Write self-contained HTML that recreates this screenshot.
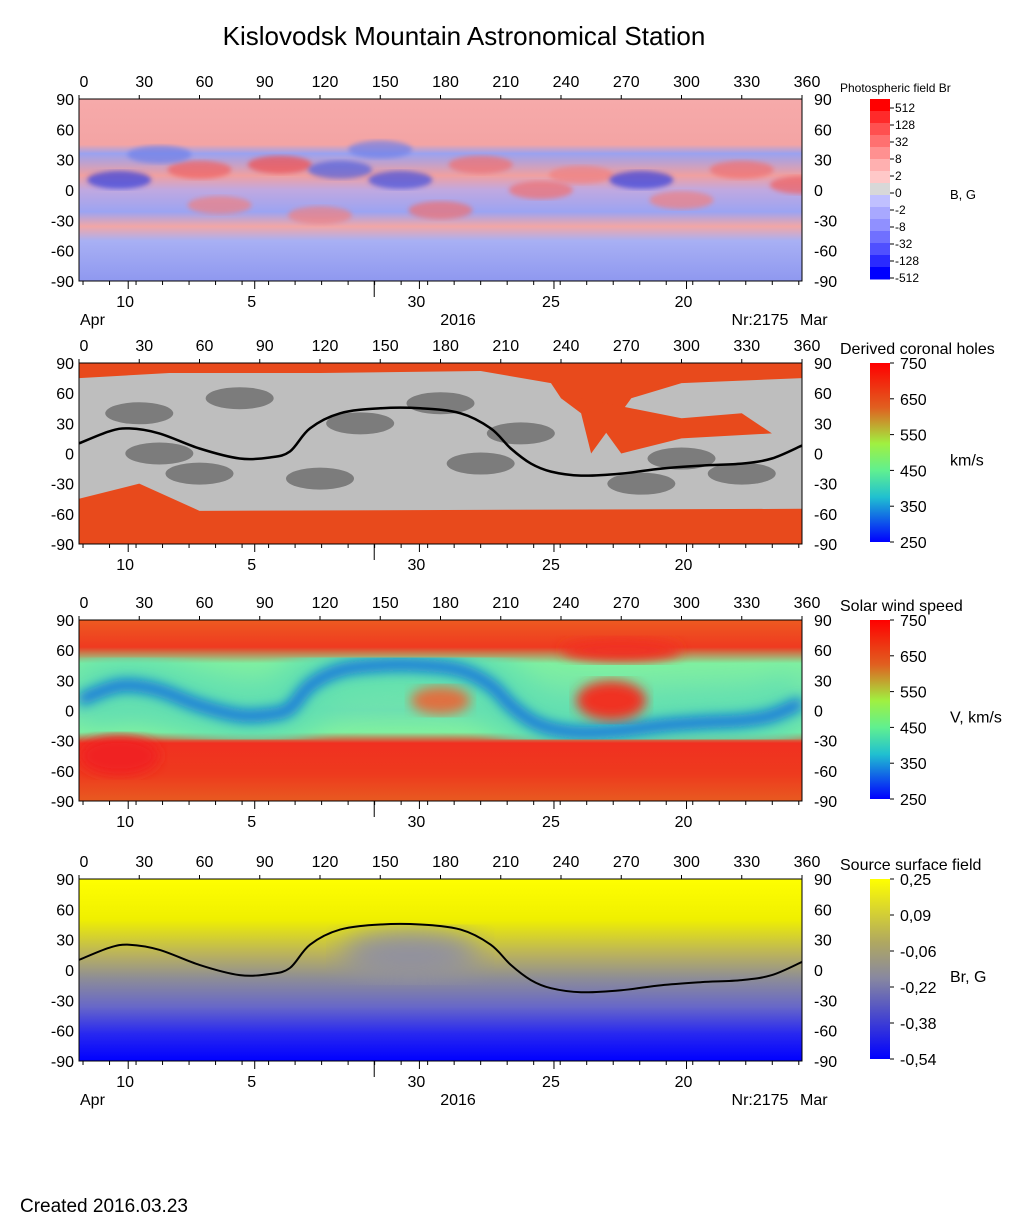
<!DOCTYPE html>
<html><head><meta charset="utf-8"><style>
body{margin:0;background:#fff}
svg{display:block;font-family:"Liberation Sans",Arial,sans-serif}
</style></head><body>
<svg id="s" width="1020" height="1223" viewBox="0 0 1020 1223">
<defs>
<filter id="blur6"><feGaussianBlur stdDeviation="6"/></filter>
<filter id="blur14"><feGaussianBlur stdDeviation="14"/></filter>
<filter id="blur3"><feGaussianBlur stdDeviation="2.5"/></filter>
<linearGradient id="g1" x1="0" y1="0" x2="0" y2="1">
<stop offset="0" stop-color="#f6aaaa"/><stop offset="0.25" stop-color="#f4a4a4"/><stop offset="0.3" stop-color="#9aa2f0"/>
<stop offset="0.42" stop-color="#f0a0a0"/><stop offset="0.5" stop-color="#c0a8e0"/><stop offset="0.62" stop-color="#9ca4f2"/>
<stop offset="0.7" stop-color="#f2a6a6"/><stop offset="0.78" stop-color="#a8b0f4"/><stop offset="1" stop-color="#8f98f0"/></linearGradient>
<linearGradient id="g3" x1="0" y1="0" x2="0" y2="1">
<stop offset="0" stop-color="#ee5a20"/><stop offset="0.15" stop-color="#ef3a20"/><stop offset="0.24" stop-color="#80f0a0"/>
<stop offset="0.5" stop-color="#70e0b0"/><stop offset="0.62" stop-color="#80f0a0"/><stop offset="0.68" stop-color="#f03020"/>
<stop offset="0.85" stop-color="#ee3a1e"/><stop offset="1" stop-color="#e85a20"/></linearGradient>
<linearGradient id="g4" x1="0" y1="0" x2="0" y2="1">
<stop offset="0" stop-color="#ffff00"/><stop offset="0.22" stop-color="#f0f000"/><stop offset="0.42" stop-color="#b8b060"/>
<stop offset="0.55" stop-color="#8c8c98"/><stop offset="0.7" stop-color="#6868c8"/><stop offset="0.85" stop-color="#2828f0"/><stop offset="1" stop-color="#0000ff"/></linearGradient>
<linearGradient id="cbRain" x1="0" y1="0" x2="0" y2="1">
<stop offset="0" stop-color="#ff0000"/><stop offset="0.25" stop-color="#e06020"/><stop offset="0.45" stop-color="#a0f040"/>
<stop offset="0.6" stop-color="#60f090"/><stop offset="0.75" stop-color="#20c0d0"/><stop offset="1" stop-color="#0000ff"/></linearGradient>
<linearGradient id="cb4" x1="0" y1="0" x2="0" y2="1">
<stop offset="0" stop-color="#ffff00"/><stop offset="0.35" stop-color="#b0a860"/><stop offset="0.55" stop-color="#8888a0"/><stop offset="1" stop-color="#0000ff"/></linearGradient>
<clipPath id="c1"><rect x="79" y="99" width="723" height="182"/></clipPath>
<clipPath id="c2"><rect x="79" y="363" width="723" height="181"/></clipPath>
<clipPath id="c3"><rect x="79" y="620" width="723" height="181"/></clipPath>
<clipPath id="c4"><rect x="79" y="879" width="723" height="182"/></clipPath>
</defs>
<text x="464" y="45" font-size="26" text-anchor="middle">Kislovodsk Mountain Astronomical Station</text>
<g id="plots"></g>
<text x="20" y="1212" font-size="19">Created  2016.03.23</text>
</svg>
<script>
const NS="http://www.w3.org/2000/svg";
const svg=document.getElementById('plots');
// neutral line data (longitude deg, latitude deg)
const neutralLon=[0,15,25,40,60,80,95,105,115,130,150,170,190,205,215,225,235,250,270,290,310,330,345,360];
const neutralLat=[10,22,25,20,5,-5,-4,2,25,40,45,45,40,25,5,-10,-18,-22,-20,-15,-12,-10,-5,8];
const latTicks=[90,60,30,0,-30,-60,-90];
const lonTicks=[0,30,60,90,120,150,180,210,240,270,300,330,360];
const dateLabels=["10","5","30","25","20"];
const dateLon=[22,85,167,234,300];
const monthLon=147;
const panels=[
 {y0:99,h:182,title:"Photospheric field Br",tsize:12,unit:"B, G",cb:"steps",labels:["512","128","32","8","2","0","-2","-8","-32","-128","-512"],foot:true},
 {y0:363,h:181,title:"Derived coronal holes",tsize:16,unit:"km/s",cb:"url(#cbRain)",labels:["750","650","550","450","350","250"],foot:false},
 {y0:620,h:181,title:"Solar wind speed",tsize:16,unit:"V, km/s",cb:"url(#cbRain)",labels:["750","650","550","450","350","250"],foot:false},
 {y0:879,h:182,title:"Source surface field",tsize:16,unit:"Br, G",cb:"url(#cb4)",labels:["0,25","0,09","-0,06","-0,22","-0,38","-0,54"],foot:true}];
const X0=79,W=723;
function el(t,a,p){const e=document.createElementNS(NS,t);for(const k in a)e.setAttribute(k,a[k]);(p||svg).appendChild(e);return e;}
function xs(l){return X0+l*W/360;}
function linePath(ys){
 const P=neutralLon.map((l,i)=>[xs(l),ys(neutralLat[i])]);
 let d="M"+P[0][0].toFixed(1)+","+P[0][1].toFixed(1);
 for(let i=0;i<P.length-1;i++){
  const p0=P[Math.max(0,i-1)],p1=P[i],p2=P[i+1],p3=P[Math.min(P.length-1,i+2)];
  const c1=[p1[0]+(p2[0]-p0[0])/6,p1[1]+(p2[1]-p0[1])/6],c2=[p2[0]-(p3[0]-p1[0])/6,p2[1]-(p3[1]-p1[1])/6];
  d+=`C${c1[0].toFixed(1)},${c1[1].toFixed(1)} ${c2[0].toFixed(1)},${c2[1].toFixed(1)} ${p2[0].toFixed(1)},${p2[1].toFixed(1)}`;
 }
 return d;}
panels.forEach((p,pi)=>{
 const ys=lat=>p.y0+(90-lat)*p.h/180;
 const g=el('g',{'clip-path':`url(#c${pi+1})`});
 
 
 if(pi===0){
  el('rect',{x:X0,y:p.y0,width:W,height:p.h,fill:'url(#g1)'},g);
  const blobs=[[20,10,'#3040e0'],[60,20,'#f06060'],[100,25,'#f05050'],[130,20,'#5060e0'],[160,10,'#4050e0'],[200,25,'#f07070'],[250,15,'#f08080'],[280,10,'#3040e0'],[330,20,'#f07070'],[360,5,'#f06060'],[70,-15,'#f08080'],[180,-20,'#f07070'],[230,0,'#f07070'],[300,-10,'#f08080'],[120,-25,'#f08080'],[40,35,'#7080e8'],[150,40,'#7080e8']];
  blobs.forEach(b=>el('ellipse',{cx:xs(b[0]),cy:ys(b[1]),rx:32,ry:9,fill:b[2],opacity:0.7,filter:'url(#blur3)'},g));
 } else if(pi===1){
  el('rect',{x:X0,y:p.y0,width:W,height:p.h,fill:'#e84a1c'},g);
  el('path',{d:`M${xs(0)},${ys(75)} L${xs(45)},${ys(80)} L${xs(120)},${ys(80)} L${xs(200)},${ys(82)} L${xs(235)},${ys(70)} L${xs(240)},${ys(55)} L${xs(250)},${ys(40)} L${xs(255)},${ys(0)} L${xs(275)},${ys(55)} L${xs(300)},${ys(70)} L${xs(360)},${ys(75)} L${xs(360)},${ys(-55)} L${xs(60)},${ys(-57)} L${xs(30)},${ys(-30)} L${xs(0)},${ys(-45)} Z`,fill:'#bebebe'},g);
  el('path',{d:`M${xs(250)},${ys(55)} L${xs(300)},${ys(35)} L${xs(330)},${ys(40)} L${xs(345)},${ys(20)} L${xs(300)},${ys(15)} L${xs(270)},${ys(0)} Z`,fill:'#e84a1c'},g);
  const dk=[[30,40],[80,55],[140,30],[60,-20],[120,-25],[200,-10],[220,20],[280,-30],[330,-20],[180,50],[300,-5],[40,0]];
  dk.forEach(b=>el('ellipse',{cx:xs(b[0]),cy:ys(b[1]),rx:34,ry:11,fill:'#7c7c7c'},g));
  el('path',{d:linePath(ys),fill:'none',stroke:'#000','stroke-width':2.5},g);
 } else if(pi===2){
  el('rect',{x:X0,y:p.y0,width:W,height:p.h,fill:'url(#g3)'},g);
  el('path',{d:linePath(ys),fill:'none',stroke:'#60e0b0','stroke-width':60,filter:'url(#blur14)'},g);
  el('path',{d:linePath(ys),fill:'none',stroke:'#1070e0','stroke-width':12,filter:'url(#blur6)'},g);
  el('ellipse',{cx:xs(265),cy:ys(10),rx:35,ry:20,fill:'#f03020',filter:'url(#blur6)'},g);
  el('ellipse',{cx:xs(270),cy:ys(60),rx:60,ry:12,fill:'#f03020',filter:'url(#blur6)'},g);
  el('ellipse',{cx:xs(180),cy:ys(10),rx:30,ry:14,fill:'#e07040',filter:'url(#blur6)'},g);
  el('ellipse',{cx:xs(20),cy:ys(-45),rx:40,ry:20,fill:'#f02020',filter:'url(#blur6)'},g);
 } else {
  el('rect',{x:X0,y:p.y0,width:W,height:p.h,fill:'url(#g4)'},g);
  el('ellipse',{cx:xs(165),cy:ys(15),rx:70,ry:25,fill:'#9090a0',filter:'url(#blur14)'},g);
  el('path',{d:linePath(ys),fill:'none',stroke:'#000','stroke-width':2},g);
 }
 const fr=el('rect',{x:X0,y:p.y0,width:W,height:p.h,fill:'none',stroke:'#000','stroke-width':1});
 
 
 lonTicks.forEach(l=>{
  const t=el('text',{x:xs(l)+5,y:p.y0-12,'font-size':16,'text-anchor':'middle'});t.textContent=l;
  
  
  el('line',{x1:xs(l),x2:xs(l),y1:p.y0,y2:p.y0-4,stroke:'#000'});
 });
 latTicks.forEach(v=>{
  const y=ys(v);
  const a=el('text',{x:74,y:y+6,'font-size':16,'text-anchor':'end'});a.textContent=v;
  
  
  const b=el('text',{x:814,y:y+6,'font-size':16});b.textContent=v;
  
  
 });
 const yb=p.y0+p.h;
 for(let l=2;l<360;l+=13.2)el('line',{x1:xs(l),x2:xs(l),y1:yb,y2:yb+4,stroke:'#000'});
 dateLabels.forEach((d,i)=>{
  el('line',{x1:xs(dateLon[i]+2.5),x2:xs(dateLon[i]+2.5),y1:yb,y2:yb+8,stroke:'#000'});
  const t=el('text',{x:xs(dateLon[i])+2,y:yb+26,'font-size':16,'text-anchor':'middle'});t.textContent=d;
  
  
 });
 el('line',{x1:xs(monthLon),x2:xs(monthLon),y1:yb,y2:yb+16,stroke:'#000'});
 if(p.foot){
  [["Apr",80,"start"],["2016",458,"middle"],["Nr:2175",760,"middle"],["Mar",800,"start"]].forEach(f=>{
   const t=el('text',{x:f[1],y:yb+44,'font-size':16,'text-anchor':f[2]});t.textContent=f[0];
   
   
  });
 }
 const cbx=870,cbw=20,cy0=p.y0,ch=p.h-2;
 const cbg=el('g',{});
 
 
 if(p.cb==="steps"){
  const cols=["#ff0000","#ff2a2a","#ff5050","#ff7070","#ff9090","#ffb0b0","#ffc8c8","#d8d8d8","#c0c0ff","#a8a8ff","#9090ff","#7070ff","#5050ff","#2a2aff","#0000ff"];
  const hh=ch/cols.length;
  cols.forEach((c,i)=>el('rect',{x:cbx,y:cy0+i*hh,width:cbw,height:hh+0.5,fill:c},cbg));
 } else el('rect',{x:cbx,y:cy0,width:cbw,height:ch,fill:p.cb},cbg);
 const n=p.labels.length;
 p.labels.forEach((s,i)=>{
  const y=p.cb==="steps"?cy0+9+i*(ch-10)/(n-1):cy0+i*ch/(n-1);
  el('line',{x1:cbx+cbw,x2:cbx+cbw+4,y1:y,y2:y,stroke:'#000'},cbg);
  const t=el('text',{x:cbx+cbw+(p.cb==="steps"?5:10),y:y+(p.cb==="steps"?4:6),'font-size':p.cb==="steps"?12:16},cbg);t.textContent=s;
  
  
 });
 const tt=el('text',{x:840,y:p.y0-(pi===0?7:9),'font-size':p.tsize});tt.textContent=p.title;
 
 
 const u=el('text',{x:950,y:p.y0+p.h/2+(pi===0?9:12),'font-size':pi===0?13:16});u.textContent=p.unit;
 
 
});
</script>
</body></html>
